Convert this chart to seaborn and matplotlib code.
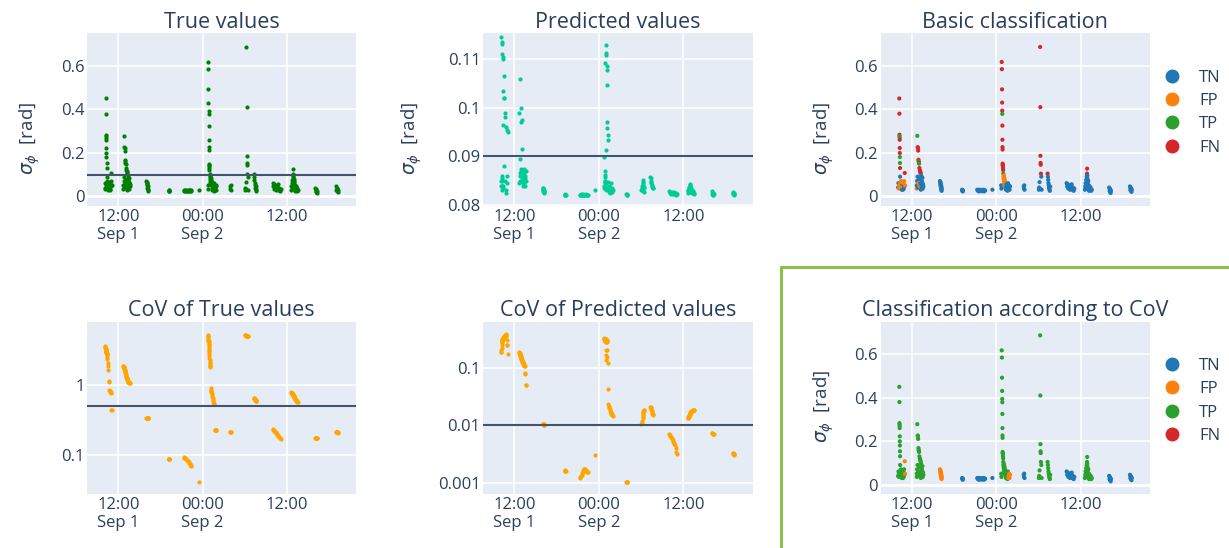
import numpy as np
import pandas as pd
import matplotlib
matplotlib.use("Agg")
import matplotlib.pyplot as plt
import seaborn as sns
from matplotlib.lines import Line2D
from matplotlib.patches import Rectangle
from matplotlib.ticker import NullLocator

# ---------------- data (hours since Sep 1 00:00) ----------------
time_h = [
    # A
    10.05, 10.10, 10.15, 10.20, 10.22, 10.24, 10.25, 10.26, 10.27, 10.28, 10.29, 10.30, 10.31, 10.32, 10.33, 10.34,
    10.36, 10.40, 10.45, 10.50, 10.55, 10.58, 10.62, 10.66, 10.70, 10.75, 10.80, 10.85, 10.90, 10.95, 11.00, 11.05,
    # B
    12.70, 12.72, 12.75, 12.78, 12.81, 12.84, 12.86, 12.88, 12.90, 12.93, 12.95, 12.98, 13.00, 13.03, 13.06, 13.08,
    13.11, 13.14, 13.17, 13.20, 13.23, 13.26, 13.29, 13.32, 13.35, 13.39, 13.43, 13.47, 13.51, 13.55, 13.60, 13.65,
    # C
    16.00, 16.03, 16.06, 16.09, 16.12, 16.15, 16.18, 16.21, 16.24, 16.27,
    # D
    19.15, 19.18, 19.21, 19.24, 19.27,
    # E
    21.30, 21.38, 21.46, 21.54, 21.62, 21.70, 21.78, 21.86, 21.94, 22.02, 22.10, 22.18, 22.26, 22.34, 22.42,
    # E2
    23.45,
    # F
    24.70, 24.74, 24.78, 24.80, 24.82, 24.84, 24.85, 24.86, 24.87, 24.88, 24.89, 24.90, 24.91, 24.92, 24.94, 24.96,
    24.98, 25.00, 25.02, 25.05, 25.08, 25.10, 25.12, 25.15, 25.18, 25.21, 25.24, 25.27, 25.32, 25.38, 25.44, 25.50,
    25.55, 25.60, 25.66, 25.72, 25.78, 25.84, 25.90, 25.96,
    # G
    27.90, 27.94, 27.98, 28.02,
    # H
    30.05, 30.10, 30.15, 30.20, 30.24, 30.26, 30.28, 30.30, 30.32, 30.35, 30.40, 30.45,
    # I
    31.30, 31.34, 31.38, 31.42, 31.46, 31.50, 31.54, 31.58, 31.62, 31.66,
    # J
    34.00, 34.08, 34.16, 34.24, 34.32, 34.40, 34.48, 34.56, 34.64, 34.72, 34.80, 34.90, 35.00, 35.10,
    # K
    36.60, 36.65, 36.70, 36.74, 36.78, 36.82, 36.86, 36.90, 36.92, 36.94, 36.96, 36.98, 37.00, 37.04, 37.08, 37.12,
    37.16, 37.20, 37.25, 37.30, 37.36, 37.42, 37.50, 37.58,
    # L
    40.05, 40.10, 40.14, 40.18, 40.22, 40.26, 40.30,
    # M
    43.00, 43.05, 43.10, 43.14, 43.18, 43.22, 43.26,
]

sigma_true = [
    0.040, 0.060, 0.035, 0.050, 0.450, 0.380, 0.283, 0.275, 0.270, 0.260, 0.222, 0.199, 0.180, 0.153, 0.130, 0.090,
    0.060, 0.045, 0.070, 0.040, 0.055, 0.030, 0.065, 0.050, 0.040, 0.030, 0.060, 0.035, 0.070, 0.045, 0.107, 0.050,
    0.050, 0.035, 0.070, 0.278, 0.090, 0.226, 0.040, 0.222, 0.210, 0.060, 0.168, 0.160, 0.155, 0.150, 0.080, 0.130,
    0.045, 0.120, 0.115, 0.060, 0.110, 0.105, 0.030, 0.095, 0.050, 0.075, 0.040, 0.065, 0.085, 0.035, 0.055, 0.045,
    0.070, 0.060, 0.050, 0.065, 0.040, 0.055, 0.030, 0.045, 0.025, 0.035,
    0.030, 0.025, 0.028, 0.022, 0.026,
    0.030, 0.025, 0.028, 0.022, 0.030, 0.026, 0.024, 0.029, 0.023, 0.027, 0.025, 0.030, 0.022, 0.028, 0.026,
    0.030,
    0.050, 0.035, 0.618, 0.585, 0.492, 0.431, 0.394, 0.379, 0.325, 0.260, 0.226, 0.215, 0.150, 0.145, 0.140, 0.130,
    0.120, 0.104, 0.090, 0.080, 0.095, 0.070, 0.060, 0.085, 0.050, 0.075, 0.055, 0.065, 0.040, 0.030, 0.055, 0.035,
    0.045, 0.025, 0.060, 0.030, 0.040, 0.050, 0.030, 0.045,
    0.045, 0.035, 0.050, 0.030,
    0.030, 0.040, 0.065, 0.035, 0.687, 0.410, 0.186, 0.153, 0.145, 0.104, 0.090, 0.030,
    0.104, 0.090, 0.075, 0.060, 0.050, 0.040, 0.035, 0.030, 0.025, 0.045,
    0.060, 0.045, 0.055, 0.035, 0.050, 0.040, 0.030, 0.045, 0.035, 0.055, 0.030, 0.040, 0.025, 0.035,
    0.030, 0.045, 0.060, 0.035, 0.075, 0.050, 0.090, 0.104, 0.127, 0.095, 0.080, 0.065, 0.055, 0.040, 0.070, 0.030,
    0.050, 0.025, 0.045, 0.035, 0.030, 0.040, 0.025, 0.030,
    0.040, 0.025, 0.035, 0.020, 0.030, 0.015, 0.025,
    0.045, 0.030, 0.040, 0.025, 0.035, 0.020, 0.030,
]

sigma_pred = [
    0.0840, 0.0850, 0.1145, 0.1130, 0.0850, 0.0860, 0.0840, 0.1135, 0.1110, 0.0855, 0.0830, 0.0840, 0.0965, 0.1035, 0.0835, 0.0840,
    0.1105, 0.1100, 0.1065, 0.1020, 0.1020, 0.0880, 0.0990, 0.0850, 0.0980, 0.0830, 0.0960, 0.0825, 0.0955, 0.0845, 0.0860, 0.0950,
    0.0845, 0.0990, 0.0860, 0.1060, 0.0865, 0.0895, 0.0850, 0.0870, 0.0860, 0.0970, 0.0875, 0.1000, 0.0850, 0.0975, 0.0870, 0.0860,
    0.0915, 0.0865, 0.0850, 0.0845, 0.0855, 0.0870, 0.0840, 0.0865, 0.0850, 0.0875, 0.0845, 0.0860, 0.0855, 0.0840, 0.0870, 0.0850,
    0.0835, 0.0832, 0.0830, 0.0834, 0.0828, 0.0831, 0.0826, 0.0829, 0.0825, 0.0827,
    0.0822, 0.0820, 0.0821, 0.0820, 0.0821,
    0.0821, 0.0820, 0.0822, 0.0820, 0.0821, 0.0820, 0.0822, 0.0821, 0.0820, 0.0821, 0.0820, 0.0822, 0.0821, 0.0820, 0.0821,
    0.0830,
    0.0835, 0.0840, 0.0898, 0.0869, 0.0861, 0.0858, 0.0850, 0.1092, 0.0848, 0.0840, 0.0845, 0.0850, 0.0835, 0.0840, 0.0830, 0.0835,
    0.0845, 0.0913, 0.1129, 0.1112, 0.1109, 0.1086, 0.1078, 0.1046, 0.0971, 0.0958, 0.0944, 0.0934, 0.0848, 0.0830, 0.0840, 0.0826,
    0.0835, 0.0824, 0.0845, 0.0828, 0.0832, 0.0836, 0.0826, 0.0830,
    0.0822, 0.0821, 0.0823, 0.0821,
    0.0830, 0.0835, 0.0840, 0.0828, 0.0851, 0.0848, 0.0845, 0.0842, 0.0840, 0.0838, 0.0835, 0.0827,
    0.0858, 0.0855, 0.0850, 0.0848, 0.0845, 0.0842, 0.0840, 0.0837, 0.0834, 0.0836,
    0.0828, 0.0825, 0.0827, 0.0823, 0.0826, 0.0824, 0.0822, 0.0825, 0.0823, 0.0827, 0.0822, 0.0824, 0.0821, 0.0823,
    0.0825, 0.0828, 0.0831, 0.0826, 0.0835, 0.0830, 0.0838, 0.0841, 0.0843, 0.0840, 0.0838, 0.0835, 0.0833, 0.0830, 0.0836, 0.0826,
    0.0831, 0.0824, 0.0829, 0.0827, 0.0825, 0.0828, 0.0823, 0.0825,
    0.0828, 0.0822, 0.0825, 0.0821, 0.0824, 0.0820, 0.0822,
    0.0826, 0.0823, 0.0825, 0.0822, 0.0824, 0.0821, 0.0823,
]

cov_true = [
    3.50, 3.40, 3.30, 3.20, 3.15, 3.10, 3.05, 3.00, 2.95, 2.95, 2.90, 2.90, 2.85, 2.80, 2.75, 2.70,
    2.60, 2.50, 2.30, 2.00, 1.85, 1.60, 1.12, 1.10, 0.83, 0.80, 0.78, 0.80, 0.78, 0.76, 0.43, 0.43,
    1.85, 1.82, 1.80, 1.78, 1.75, 1.70, 1.65, 1.62, 1.60, 1.58, 1.55, 1.50, 1.45, 1.40, 1.35, 1.32,
    1.30, 1.28, 1.25, 1.22, 1.20, 1.18, 1.15, 1.12, 1.10, 1.10, 1.09, 1.08, 1.08, 1.06, 1.05, 1.05,
    0.335, 0.335, 0.334, 0.334, 0.333, 0.333, 0.332, 0.332, 0.331, 0.331,
    0.088, 0.088, 0.087, 0.087, 0.087,
    0.093, 0.092, 0.091, 0.090, 0.088, 0.087, 0.085, 0.083, 0.081, 0.079, 0.077, 0.075, 0.073, 0.071, 0.070,
    0.042,
    5.06, 4.90, 4.70, 4.50, 4.30, 4.20, 4.10, 4.00, 3.80, 3.60, 3.40, 3.20, 3.10, 3.00, 2.80, 2.60,
    2.35, 2.20, 2.10, 2.00, 1.89, 1.85, 1.80, 0.88, 0.85, 0.80, 0.78, 0.75, 0.70, 0.665, 0.64, 0.60,
    0.57, 0.55, 0.535, 0.230, 0.228, 0.227, 0.226, 0.225,
    0.212, 0.211, 0.210, 0.209,
    5.05, 5.00, 4.98, 4.95, 4.95, 4.92, 4.90, 4.90, 4.88, 4.85, 4.85, 4.82,
    0.65, 0.64, 0.63, 0.62, 0.61, 0.60, 0.60, 0.59, 0.58, 0.58,
    0.235, 0.230, 0.225, 0.220, 0.215, 0.210, 0.205, 0.200, 0.195, 0.190, 0.185, 0.180, 0.175, 0.170,
    0.78, 0.77, 0.76, 0.75, 0.74, 0.73, 0.72, 0.72, 0.71, 0.70, 0.69, 0.68, 0.67, 0.66, 0.65, 0.64,
    0.63, 0.62, 0.61, 0.60, 0.59, 0.58, 0.57, 0.56,
    0.174, 0.174, 0.173, 0.173, 0.173, 0.172, 0.172,
    0.212, 0.211, 0.210, 0.210, 0.209, 0.209, 0.208,
]

cov_pred = [
    0.187, 0.190, 0.200, 0.220, 0.250, 0.270, 0.280, 0.290, 0.300, 0.300, 0.305, 0.310, 0.310, 0.315, 0.320, 0.320,
    0.325, 0.330, 0.335, 0.340, 0.345, 0.350, 0.355, 0.360, 0.365, 0.370, 0.377, 0.360, 0.300, 0.245, 0.245, 0.175,
    0.185, 0.180, 0.176, 0.172, 0.168, 0.164, 0.160, 0.156, 0.152, 0.148, 0.145, 0.142, 0.139, 0.136, 0.133, 0.130,
    0.128, 0.126, 0.124, 0.122, 0.120, 0.118, 0.116, 0.114, 0.112, 0.110, 0.108, 0.106, 0.080, 0.078, 0.050, 0.049,
    0.0105, 0.0105, 0.0104, 0.0104, 0.0104, 0.0104, 0.0103, 0.0103, 0.0103, 0.0103,
    0.00165, 0.00163, 0.00162, 0.00161, 0.00160,
    0.00123, 0.00128, 0.00133, 0.00140, 0.00148, 0.00158, 0.00168, 0.00175, 0.00178, 0.00172, 0.00165, 0.00160, 0.00158, 0.00157, 0.00157,
    0.00307,
    0.320, 0.318, 0.315, 0.312, 0.310, 0.308, 0.305, 0.302, 0.300, 0.298, 0.295, 0.292, 0.290, 0.288, 0.285, 0.282,
    0.280, 0.200, 0.163, 0.136, 0.310, 0.300, 0.290, 0.280, 0.200, 0.155, 0.120, 0.043, 0.0235, 0.0220, 0.0210, 0.0200,
    0.0190, 0.0180, 0.0170, 0.0165, 0.0160, 0.0155, 0.0150, 0.0147,
    0.00106, 0.00105, 0.00105, 0.00104,
    0.0105, 0.0110, 0.0120, 0.0134, 0.0140, 0.0150, 0.0160, 0.0170, 0.0175, 0.0180, 0.0185, 0.0185,
    0.0211, 0.0205, 0.0200, 0.0195, 0.0190, 0.0180, 0.0170, 0.0160, 0.0155, 0.0153,
    0.0070, 0.0068, 0.0066, 0.0063, 0.0060, 0.0058, 0.0055, 0.0052, 0.0050, 0.0047, 0.0045, 0.0040, 0.0035, 0.0032,
    0.0132, 0.0135, 0.0138, 0.0141, 0.0144, 0.0147, 0.0150, 0.0153, 0.0156, 0.0159, 0.0162, 0.0165, 0.0168, 0.0170, 0.0172, 0.0174,
    0.0176, 0.0178, 0.0180, 0.0181, 0.0182, 0.0183, 0.0184, 0.0185,
    0.0073, 0.0073, 0.0072, 0.0072, 0.0072, 0.0071, 0.0071,
    0.0033, 0.0033, 0.0032, 0.0032, 0.0032, 0.0032, 0.0031,
]

thr_true, thr_pred = 0.1, 0.09
thr_cov_true, thr_cov_pred = 0.5, 0.01

tick_hours = [12, 24, 36]
tick_labels = ["12:00\nSep 1", "00:00\nSep 2", "12:00"]
class_order = ["TN", "FP", "TP", "FN"]
class_colors = {"TN": "#1f77b4", "FP": "#ff7f0e", "TP": "#2ca02c", "FN": "#d62728"}

# ---------------- frame ----------------
df = pd.DataFrame({"time_h": time_h, "sigma_true": sigma_true, "sigma_pred": sigma_pred,
                   "cov_true": cov_true, "cov_pred": cov_pred})


def classify(actual, predicted, ta, tp):
    a = np.asarray(actual) > ta
    p = np.asarray(predicted) > tp
    return np.select([~a & ~p, ~a & p, a & p, a & ~p], ["TN", "FP", "TP", "FN"], default="")


df["basic"] = classify(df.sigma_true, df.sigma_pred, thr_true, thr_pred)
df["covcls"] = classify(df.cov_true, df.cov_pred, thr_cov_true, thr_cov_pred)

# ---------------- style ----------------
sns.set_theme(style="darkgrid", rc={"axes.facecolor": "#E5ECF6", "grid.color": "white",
                                    "figure.facecolor": "white"})
plt.rcParams["font.family"] = ["Open Sans", "DejaVu Sans"]
TXT = "#2a3f5f"

W, H = 1229, 548
fig = plt.figure(figsize=(W / 100, H / 100), dpi=100)
cols = [(87.3, 356.0), (483.3, 752.7), (880.7, 1150.0)]
rows = [(33.3, 206.0), (321.7, 494.3)]


def make_ax(c, r):
    x0, x1 = cols[c]
    y0, y1 = rows[r]
    return fig.add_axes([x0 / W, 1 - y1 / H, (x1 - x0) / W, (y1 - y0) / H])


def style(ax, title, ylim, yticks, yticklabels, log=False):
    ax.set_xlim(7.58, 45.85)
    if log:
        ax.set_yscale("log")
    ax.set_ylim(*ylim)
    ax.set_xticks(tick_hours)
    ax.set_xticklabels(tick_labels)
    ax.set_yticks(yticks)
    ax.set_yticklabels(yticklabels)
    ax.yaxis.set_minor_locator(NullLocator())
    ax.xaxis.set_minor_locator(NullLocator())
    ax.tick_params(length=0, labelsize=12, labelcolor=TXT)
    ax.tick_params(axis="x", pad=2)
    ax.tick_params(axis="y", pad=2)
    ax.grid(True, which="major", color="white", lw=1.1)
    ax.set_axisbelow(True)
    for s in ax.spines.values():
        s.set_visible(False)
    ax.set_xlabel("")
    ax.set_ylabel("")
    ax.set_title(title, fontsize=15.5, color=TXT, pad=4)


def ylab(ax, xfrac, yfrac):
    ax.set_ylabel(r"$\sigma_\phi$  [rad]", fontsize=13.5, color=TXT)
    ax.yaxis.set_label_coords(xfrac, yfrac)


def legend(ax, yanchor):
    handles = [Line2D([0], [0], marker="o", ls="", color=class_colors[k], markersize=9) for k in class_order]
    ax.legend(handles, class_order, loc="upper left", bbox_to_anchor=(1.05, yanchor), frameon=False,
              fontsize=12, handlelength=1.0, handletextpad=1.15, labelspacing=0.44, borderaxespad=0,
              borderpad=0, labelcolor=TXT)


lin_lim = (-0.045, 0.75)
lin_ticks = [0, 0.2, 0.4, 0.6]
lin_lbls = ["0", "0.2", "0.4", "0.6"]
thr_color = "#44546a"
S = 9

# True values
ax = make_ax(0, 0)
sns.scatterplot(data=df, x="time_h", y="sigma_true", color="#008000", s=S, linewidth=0, ax=ax, zorder=2)
style(ax, "True values", lin_lim, lin_ticks, lin_lbls)
ax.axhline(0, color="white", lw=2, zorder=1)
ax.axhline(thr_true, color=thr_color, lw=1.5, zorder=3)
ylab(ax, -0.168, 0.394)

# Predicted values
ax = make_ax(1, 0)
sns.scatterplot(data=df, x="time_h", y="sigma_pred", color="#00cc96", s=S, linewidth=0, ax=ax, zorder=2)
style(ax, "Predicted values", (0.0798, 0.1153), [0.08, 0.09, 0.10, 0.11], ["0.08", "0.09", "0.1", "0.11"])
ax.axhline(thr_pred, color=thr_color, lw=1.5, zorder=3)
ylab(ax, -0.220, 0.394)

# Basic classification
ax = make_ax(2, 0)
sns.scatterplot(data=df, x="time_h", y="sigma_true", hue="basic", hue_order=class_order,
                palette=class_colors, s=S, linewidth=0, ax=ax, zorder=2, legend=False)
style(ax, "Basic classification", lin_lim, lin_ticks, lin_lbls)
ax.axhline(0, color="white", lw=2, zorder=1)
ylab(ax, -0.166, 0.394)
legend(ax, 0.79)

# CoV of True values
ax = make_ax(0, 1)
sns.scatterplot(data=df, x="time_h", y="cov_true", color="#ffa500", s=S, linewidth=0, ax=ax, zorder=2)
style(ax, "CoV of True values", (0.0277, 7.8), [0.1, 1], ["0.1", "1"], log=True)
ax.axhline(thr_cov_true, color=thr_color, lw=1.5, zorder=3)

# CoV of Predicted values
ax = make_ax(1, 1)
sns.scatterplot(data=df, x="time_h", y="cov_pred", color="#ffa500", s=S, linewidth=0, ax=ax, zorder=2)
style(ax, "CoV of Predicted values", (0.000636, 0.625), [0.001, 0.01, 0.1], ["0.001", "0.01", "0.1"], log=True)
ax.axhline(thr_cov_pred, color=thr_color, lw=1.5, zorder=3)

# Classification according to CoV
ax = make_ax(2, 1)
sns.scatterplot(data=df, x="time_h", y="sigma_true", hue="covcls", hue_order=class_order,
                palette=class_colors, s=S, linewidth=0, ax=ax, zorder=2, legend=False)
style(ax, "Classification according to CoV", lin_lim, lin_ticks, lin_lbls)
ax.axhline(0, color="white", lw=2, zorder=1)
ylab(ax, -0.166, 0.509)
legend(ax, 0.79)

# highlight frame around the last panel
fig.patches.append(Rectangle((780.5 / W, -0.05), 0.5, 1 - 266.5 / H + 0.05, transform=fig.transFigure,
                             fill=False, edgecolor="#8bc34a", lw=2.2, zorder=10))

fig.savefig("out.png", dpi=100)
